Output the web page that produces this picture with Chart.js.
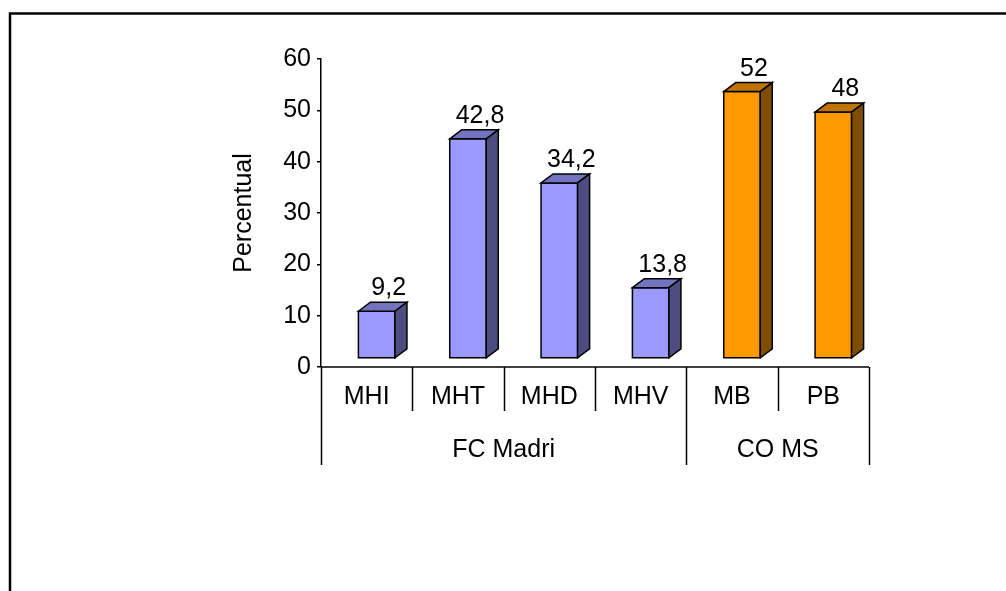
<!DOCTYPE html>
<html><head><meta charset="utf-8">
<script src="https://cdn.jsdelivr.net/npm/chart.js@4/dist/chart.umd.min.js"></script>
<style>html,body{margin:0;padding:0;background:#fff;overflow:hidden}#wrap{width:1006px;height:591px}</style>
</head><body><div id="wrap"><canvas id="c" width="1006" height="591"></canvas></div>
<script>
// ---- data ----
const categories = ['MHI', 'MHT', 'MHD', 'MHV', 'MB', 'PB'];
const values = [9.2, 42.8, 34.2, 13.8, 52, 48];
const groupLabels = ['FC Madri', 'CO MS'];
const groupSizes = [4, 2];
const yTicks = [0, 10, 20, 30, 40, 50, 60];
const yTitle = 'Percentual';

// ---- styles ----
const FONT = '"Liberation Sans", Arial, Helvetica, sans-serif';
const FSIZE = 25;
const palettes = [
  { front: '#9999FF', top: '#7373BF', side: '#4D4D80' },
  { front: '#FF9900', top: '#BF7300', side: '#804D00' }
];
const DX = 12, DY = 9, SHIFT = 10, LIFT = 8.5;

function groupIndexOf(i) {
  let acc = 0;
  for (let g = 0; g < groupSizes.length; g++) { acc += groupSizes[g]; if (i < acc) return g; }
  return groupSizes.length - 1;
}
const fmt = v => String(v).replace('.', ',');

const bar3d = {
  id: 'bar3d',
  beforeDraw(chart) {
    const ctx = chart.ctx;
    ctx.save();
    ctx.fillStyle = '#fff';
    ctx.fillRect(0, 0, chart.width, chart.height);
    ctx.strokeStyle = '#000'; ctx.lineWidth = 2.5;
    ctx.beginPath(); ctx.moveTo(10, chart.height); ctx.lineTo(10, 13.5); ctx.lineTo(chart.width, 13.5); ctx.stroke();
    ctx.restore();
  },
  beforeDatasetsDraw(chart) {
    const ctx = chart.ctx;
    const meta = chart.getDatasetMeta(0);
    meta.data.forEach((el, i) => {
      const { x, y, base, width } = el.getProps(['x', 'y', 'base', 'width'], true);
      const l = x + SHIFT - width / 2, r = l + width;
      const t = y - LIFT, b = base - LIFT;
      const pal = palettes[groupIndexOf(i)];
      ctx.save();
      ctx.lineWidth = 1.5; ctx.strokeStyle = '#000'; ctx.lineJoin = 'miter';
      ctx.fillStyle = pal.front;
      ctx.beginPath(); ctx.rect(l, t, width, b - t); ctx.fill(); ctx.stroke();
      ctx.fillStyle = pal.top;
      ctx.beginPath(); ctx.moveTo(l, t); ctx.lineTo(l + DX, t - DY); ctx.lineTo(r + DX, t - DY); ctx.lineTo(r, t); ctx.closePath(); ctx.fill(); ctx.stroke();
      ctx.fillStyle = pal.side;
      ctx.beginPath(); ctx.moveTo(r, t); ctx.lineTo(r + DX, t - DY); ctx.lineTo(r + DX, b - DY); ctx.lineTo(r, b); ctx.closePath(); ctx.fill(); ctx.stroke();
      ctx.fillStyle = '#000'; ctx.font = FSIZE + 'px ' + FONT;
      ctx.textAlign = 'center'; ctx.textBaseline = 'alphabetic';
      ctx.fillText(fmt(values[i]), (l + r) / 2 + DX, t - DY - 7);
      ctx.restore();
    });
    return false;
  },
  afterDraw(chart) {
    const ctx = chart.ctx;
    const xs = chart.scales.x;
    const y0 = chart.scales.y.getPixelForValue(0);
    const n = categories.length;
    const half = (xs.getPixelForValue(1) - xs.getPixelForValue(0)) / 2;
    const edge = k => k < n ? xs.getPixelForValue(k) - half : xs.getPixelForValue(n - 1) + half;
    ctx.save();
    ctx.strokeStyle = '#000'; ctx.lineWidth = 1.5;
    ctx.beginPath(); ctx.moveTo(edge(0), y0); ctx.lineTo(edge(n), y0); ctx.stroke();
    // group boundaries
    const longB = new Set([0]); let acc = 0;
    groupSizes.forEach(s => { acc += s; longB.add(acc); });
    for (let k = 0; k <= n; k++) {
      const xx = Math.round(edge(k)) + 0.5;
      ctx.beginPath(); ctx.moveTo(xx, y0); ctx.lineTo(xx, y0 + (longB.has(k) ? 98 : 44)); ctx.stroke();
    }
    ctx.fillStyle = '#000'; ctx.font = FSIZE + 'px ' + FONT;
    ctx.textAlign = 'center'; ctx.textBaseline = 'alphabetic';
    categories.forEach((c, i) => ctx.fillText(c, xs.getPixelForValue(i), y0 + 36.5));
    let start = 0;
    groupLabels.forEach((g, gi) => {
      const end = start + groupSizes[gi];
      ctx.fillText(g, (edge(start) + edge(end)) / 2, y0 + 90);
      start = end;
    });
    ctx.restore();
  }
};

Chart.defaults.font.family = FONT;
Chart.defaults.color = '#000';

new Chart(document.getElementById('c'), {
  type: 'bar',
  data: {
    labels: categories,
    datasets: [{
      data: values,
      backgroundColor: values.map((v, i) => palettes[groupIndexOf(i)].front),
      categoryPercentage: 1.0,
      barPercentage: 0.4
    }]
  },
  options: {
    responsive: false,
    animation: false,
    devicePixelRatio: 1,
    layout: { padding: { left: 229, right: 137, top: 59, bottom: 224 } },
    plugins: { legend: { display: false }, tooltip: { enabled: false } },
    scales: {
      x: { display: false },
      y: {
        min: yTicks[0], max: yTicks[yTicks.length - 1],
        afterFit(scale) { scale.width = 92; },
        afterBuildTicks(scale) { scale.ticks = yTicks.map(v => ({ value: v })); },
        ticks: { font: { size: FSIZE }, color: '#000', padding: 6 },
        grid: { drawOnChartArea: false, drawTicks: true, tickLength: 4, color: '#000', lineWidth: 1.5 },
        border: { display: true, color: '#000', width: 1.5 },
        title: { display: true, text: yTitle, font: { size: FSIZE }, color: '#000', padding: { top: 0, bottom: 0 } }
      }
    }
  },
  plugins: [bar3d]
});
</script>
</body></html>
